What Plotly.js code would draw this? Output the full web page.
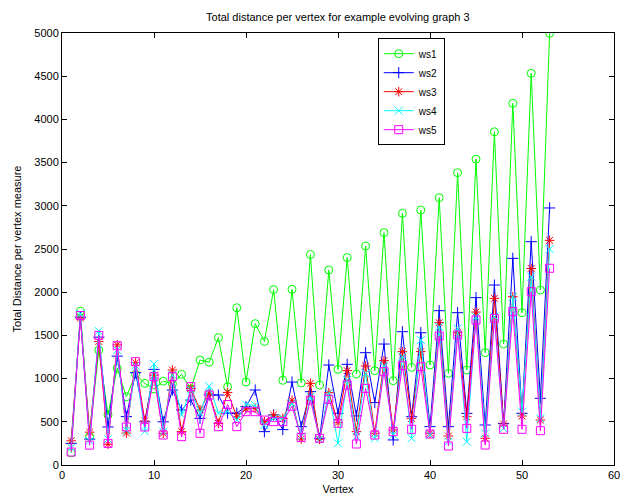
<!DOCTYPE html>
<html>
<head>
<meta charset="utf-8">
<script src="https://cdn.plot.ly/plotly-3.0.1.min.js"></script>
<style>html,body{margin:0;padding:0;background:#fff;}#chart{width:621px;height:502px;}</style>
</head>
<body>
<div id="chart"></div>
<script>
var vertices = [];
for (var i = 1; i <= 53; i++) vertices.push(i);

var seriesNames = ["ws1", "ws2", "ws3", "ws4", "ws5"];

var ws1 = [140,1780,330,1330,580,1120,790,1050,945,880,970,940,1049,880,1215,1190,1474,905,1820,960,1636,1430,2030,980,2033,950,2436,926,2257,1107,2400,1053,2535,1092,2689,976,2913,1130,2951,1157,3094,1061,3383,1100,3540,1300,3857,1400,4186,1763,4533,2025,4996];
var ws2 = [250,1710,300,1480,440,1260,560,1068,500,1107,500,868,637,752,540,810,810,600,600,675,868,386,580,410,960,444,849,309,1157,598,1165,568,1300,722,1400,290,1543,559,1531,444,1786,444,1763,598,1937,463,2083,482,2392,598,2585,772,2975];
var ws3 = [280,1700,380,1430,240,1390,370,1184,510,1040,367,1100,386,887,640,830,482,840,560,650,656,502,579,540,750,300,945,297,837,490,1092,386,1146,367,1208,405,1312,540,1312,367,1647,336,1531,559,1770,309,1929,475,1948,567,2275,521,2600];
var ws4 = [200,1750,280,1550,300,1330,400,1150,390,1170,386,1042,580,870,600,914,600,620,520,700,690,463,540,540,714,330,790,300,830,251,984,328,1061,309,1150,350,1254,309,1447,347,1600,270,1580,270,1717,367,1718,424,1948,617,2180,540,2500];
var ws5 = [150,1730,230,1500,250,1380,440,1196,440,1022,347,1022,328,907,367,810,444,700,444,617,617,520,502,502,680,320,752,309,760,482,926,243,887,347,1080,386,1150,413,1138,359,1493,220,1505,424,1678,231,1697,413,1775,413,2006,397,2277];

var xTicks = [0,10,20,30,40,50,60];
var yTicks = [0,500,1000,1500,2000,2500,3000,3500,4000,4500,5000];

var values = [ws1, ws2, ws3, ws4, ws5];
var colors = ["#00ff00", "#0000ff", "#ff0000", "#00ffff", "#ff00ff"];
var symbols = ["circle-open", "cross-thin-open", "asterisk-open", "x-thin-open", "square-open"];

var traces = values.map(function (v, k) {
  return {
    x: vertices, y: v, name: seriesNames[k], type: "scatter", mode: "lines+markers",
    line: {color: colors[k], width: 1},
    marker: {symbol: symbols[k], size: 8, color: colors[k], line: {color: colors[k], width: 1}}
  };
});

var fontFam = "Liberation Sans, Arial, sans-serif";
var axisCommon = {
  showline: true, linecolor: "#000", linewidth: 1, mirror: "ticks",
  ticks: "inside", ticklen: 5, tickcolor: "#000", showgrid: false, zeroline: false,
  tickfont: {family: fontFam, size: 11, color: "#000"}
};

var layout = {
  width: 621, height: 502,
  margin: {l: 62, r: 7, t: 33, b: 37},
  paper_bgcolor: "#fff", plot_bgcolor: "#fff",
  font: {family: fontFam, size: 11, color: "#000"},
  title: {text: "Total distance per vertex for example evolving graph 3", x: 0.544, xanchor: "center", y: 0.965, yanchor: "middle", font: {family: fontFam, size: 11, color: "#000"}},
  xaxis: Object.assign({}, axisCommon, {range: [0, 60], tickvals: xTicks, ticktext: xTicks.map(String),
    title: {text: "Vertex", standoff: 5, font: {family: fontFam, size: 11, color: "#000"}}}),
  yaxis: Object.assign({}, axisCommon, {range: [0, 5000], tickvals: yTicks, ticktext: yTicks.map(String),
    title: {text: "Total Distance per vertex measure", standoff: 10, font: {family: fontFam, size: 11, color: "#000"}}}),
  showlegend: true,
  legend: {x: 0.572, y: 0.988, xanchor: "left", yanchor: "top", bgcolor: "#fff", bordercolor: "#000", borderwidth: 1,
    font: {family: fontFam, size: 10, color: "#000"}, tracegroupgap: 0, itemwidth: 30}
};

Plotly.newPlot("chart", traces, layout, {displayModeBar: false, staticPlot: true});
</script>
</body>
</html>
